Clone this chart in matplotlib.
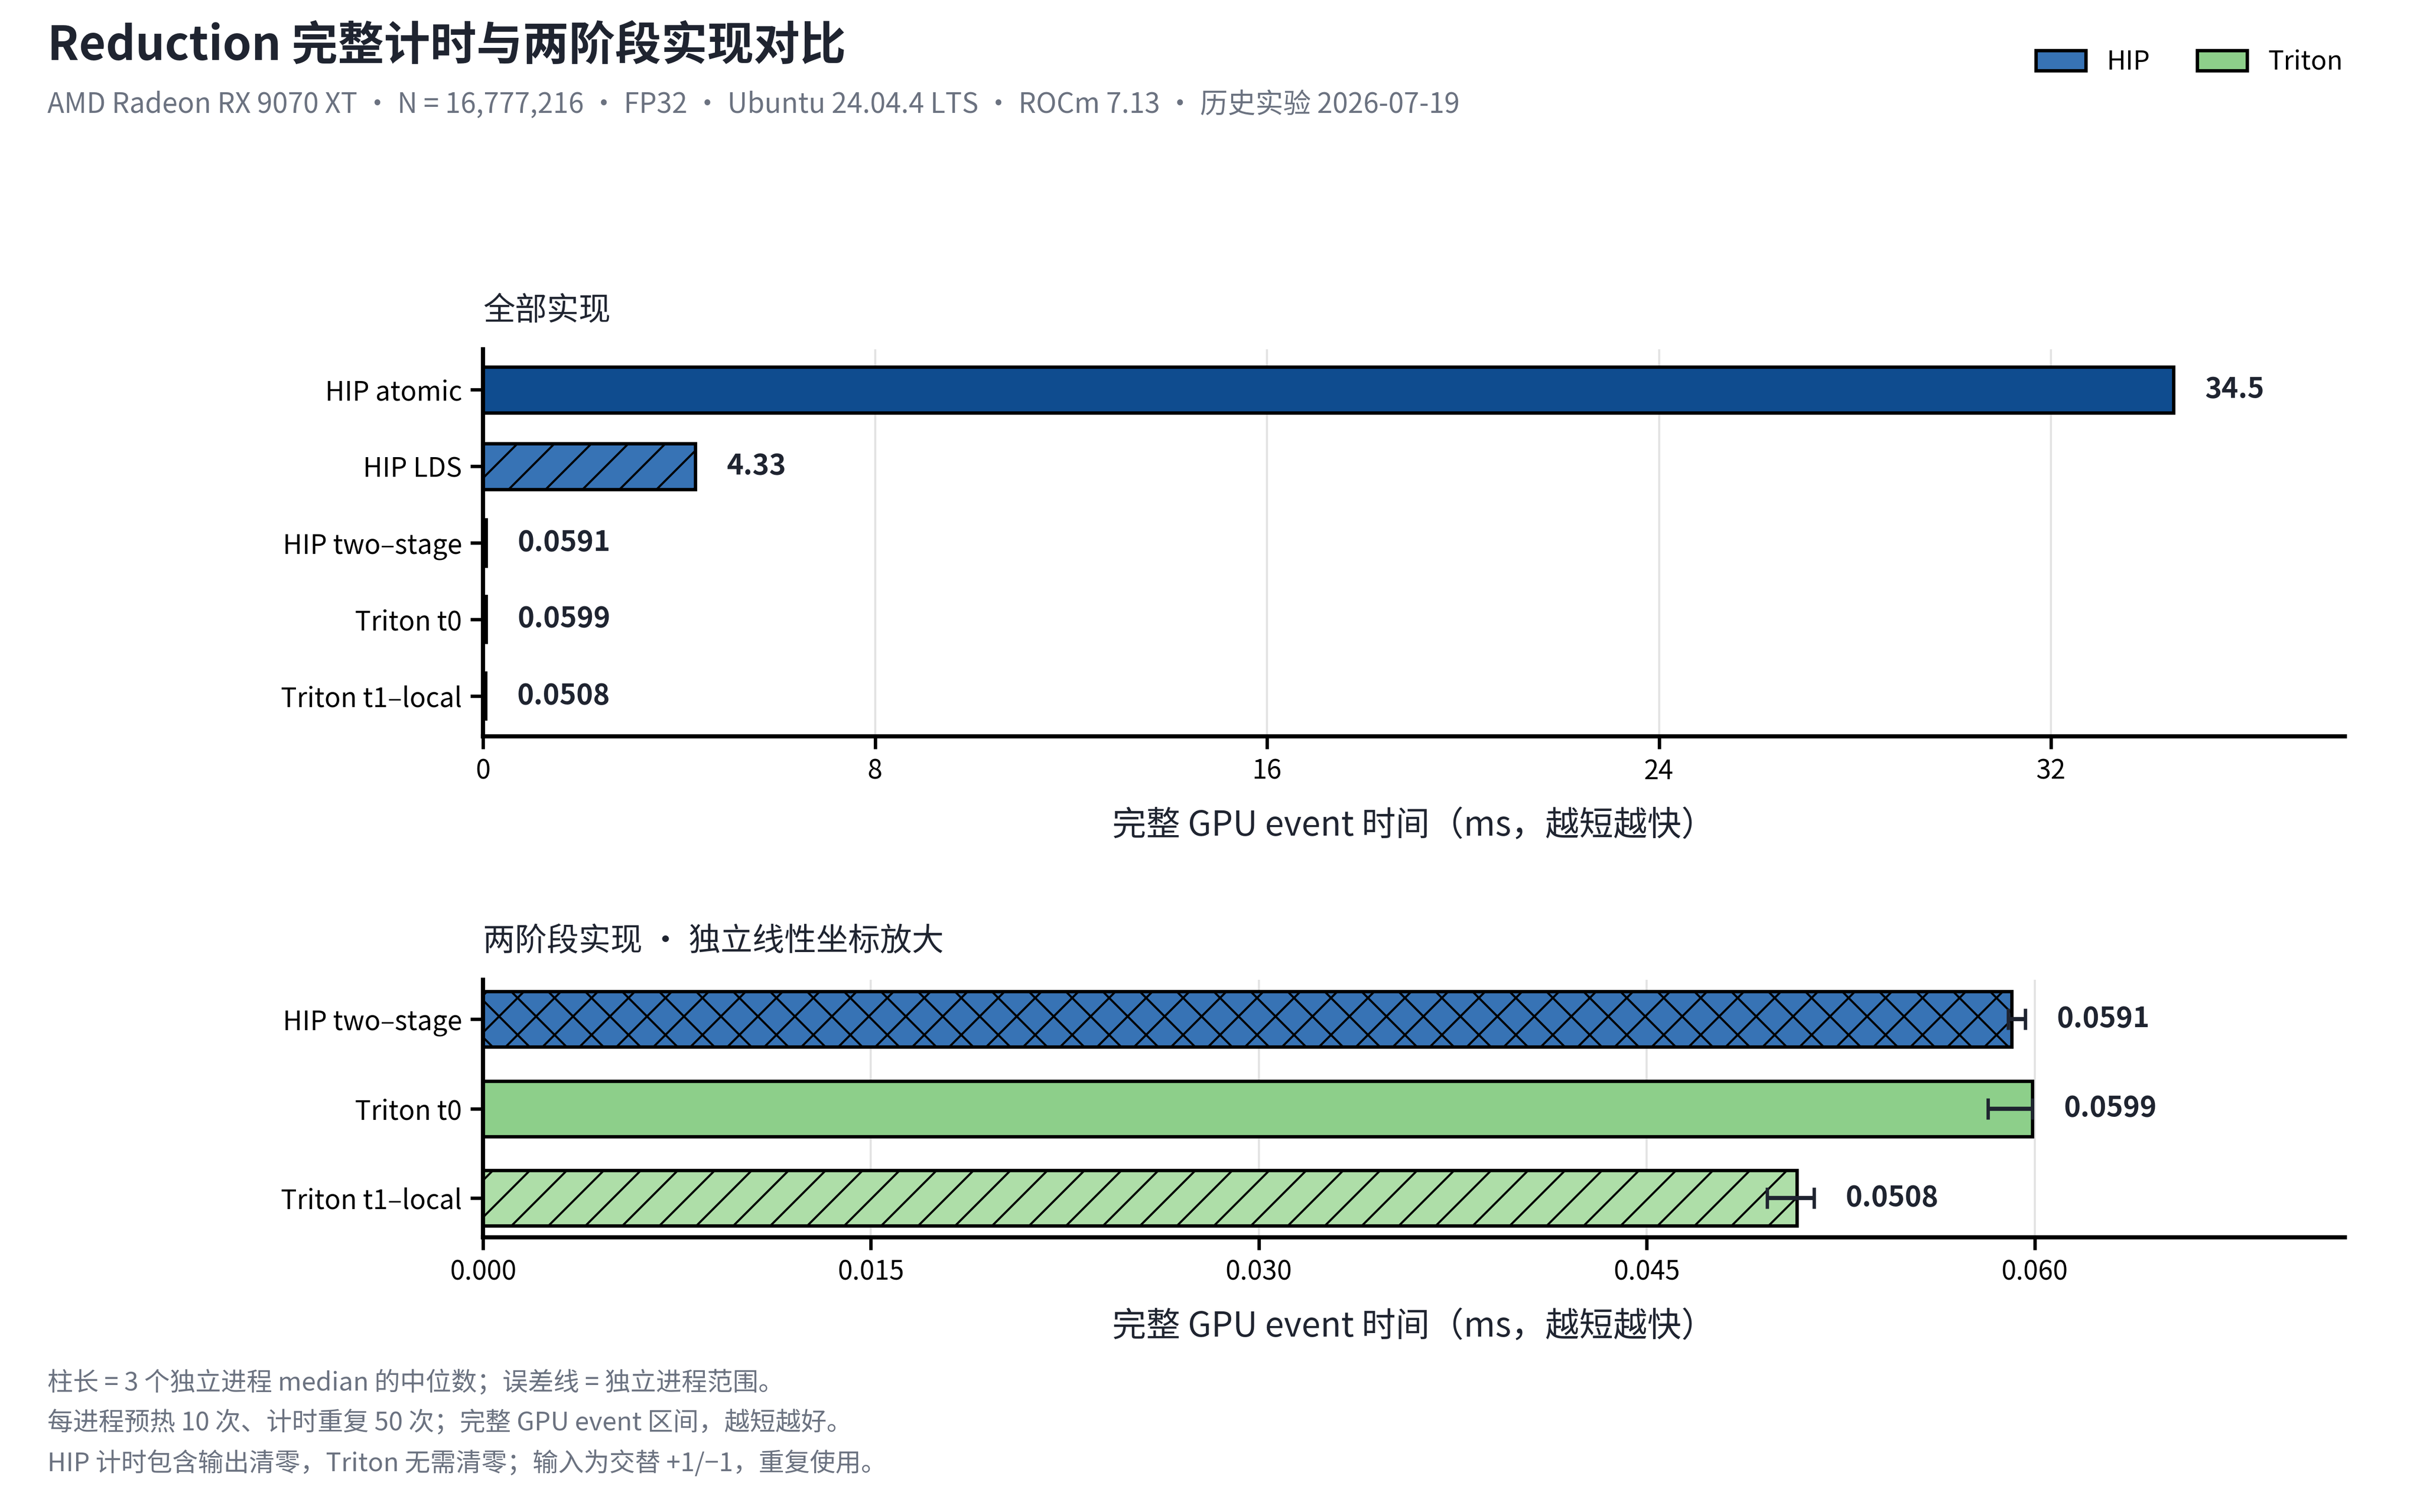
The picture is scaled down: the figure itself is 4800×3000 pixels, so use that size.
import matplotlib
matplotlib.use('Agg')
from matplotlib import pyplot as plt
from matplotlib.patches import Patch
import numpy as np

# render at a lower dpi so the hatch spacing matches; S scales every point size
DPI = 220
S = 300 / DPI

plt.rcParams['font.family'] = ['Noto Sans CJK SC', 'DejaVu Sans']
plt.rcParams['hatch.linewidth'] = 1.0 * S
plt.rcParams['axes.unicode_minus'] = False

# Data (ms)
all_names = ['HIP atomic', 'HIP LDS', 'HIP two\u2013stage', 'Triton t0', 'Triton t1\u2013local']
all_median = [34.5, 4.33, 0.0591, 0.0599, 0.0508]
all_labels = ['34.5', '4.33', '0.0591', '0.0599', '0.0508']

zoom_names = ['HIP two\u2013stage', 'Triton t0', 'Triton t1\u2013local']
zoom_median = [0.0591, 0.0599, 0.0508]
zoom_min = [0.05897, 0.0582, 0.04966]
zoom_max = [0.05963, 0.0599, 0.05147]
zoom_labels = ['0.0591', '0.0599', '0.0508']

# styles
all_colors = ['#0f4c8f', '#3773b5', '#3773b5', '#8dcf8a', '#aedea8']
all_hatch = ['', '/', 'x', '', '/']
zoom_colors = ['#3773b5', '#8dcf8a', '#aedea8']
zoom_hatch = ['x', '', '/']

dark = '#1f2430'
gray = '#6b7280'

fig = plt.figure(figsize=(4800 / DPI, 3000 / DPI), dpi=DPI)

fig.text(0.0195, 0.969, 'Reduction 完整计时与两阶段实现对比', fontsize=22 * S,
         fontweight='bold', color=dark, va='center', ha='left')
fig.text(0.0195, 0.9306, 'AMD Radeon RX 9070 XT · N = 16,777,216 · FP32 · Ubuntu 24.04.4 LTS · '
         'ROCm 7.13 · 历史实验 2026-07-19', fontsize=13.2 * S, color=gray, va='center', ha='left')

handles = [Patch(facecolor='#3773b5', edgecolor='black', linewidth=1.6 * S, label='HIP'),
           Patch(facecolor='#8dcf8a', edgecolor='black', linewidth=1.6 * S, label='Triton')]
fig.legend(handles=handles, loc='center right', bbox_to_anchor=(0.978, 0.959), ncol=2,
           frameon=False, fontsize=12.5 * S, handlelength=1.9, handleheight=0.8,
           columnspacing=1.8, handletextpad=0.8)


def style_axes(ax):
    for side in ['top', 'right']:
        ax.spines[side].set_visible(False)
    for side in ['left', 'bottom']:
        ax.spines[side].set_linewidth(2.0 * S)
        ax.spines[side].set_color('black')
    ax.tick_params(axis='both', width=1.6 * S, length=6 * S, pad=4 * S,
                   labelsize=12.7 * S, colors='black')
    ax.grid(axis='x', color='#e3e3e3', linewidth=1.0 * S)
    ax.set_axisbelow(True)


# top panel: all implementations
ax1 = fig.add_axes([0.1996, 0.513, 0.7694, 0.256])
y1 = np.arange(len(all_names))
ax1.barh(y1, all_median, height=0.6, color=all_colors, edgecolor='black',
         linewidth=1.6 * S, hatch=all_hatch)
ax1.set_yticks(y1)
ax1.set_yticklabels(all_names)
ax1.invert_yaxis()
ax1.set_xlim(0, 38)
ax1.set_xticks([0, 8, 16, 24, 32])
style_axes(ax1)
ax1.set_xlabel('完整 GPU event 时间（ms，越短越快）', fontsize=16.2 * S, color=dark,
               labelpad=11 * S)
ax1.set_title('全部实现', loc='left', fontsize=15.2 * S, color=dark, pad=14 * S)
for yi, v, lab in zip(y1, all_median, all_labels):
    ax1.annotate(lab, (v, yi), xytext=(15 * S, 0), textcoords='offset points',
                 va='center', ha='left', fontsize=13.5 * S, fontweight='bold', color=dark)

# bottom panel: two-stage zoom with process range
ax2 = fig.add_axes([0.1996, 0.1816, 0.7694, 0.1704])
y2 = np.arange(len(zoom_names))
med = np.array(zoom_median)
xerr = np.vstack([med - np.array(zoom_min), np.array(zoom_max) - med])
ax2.barh(y2, zoom_median, height=0.62, color=zoom_colors, edgecolor='black',
         linewidth=1.6 * S, hatch=zoom_hatch)
ax2.errorbar(zoom_median, y2, xerr=xerr, fmt='none', ecolor=dark, elinewidth=2.0 * S,
             capsize=5 * S, capthick=1.6 * S)
ax2.set_yticks(y2)
ax2.set_yticklabels(zoom_names)
ax2.invert_yaxis()
ax2.set_xlim(0, 0.072)
ax2.set_xticks([0.0, 0.015, 0.030, 0.045, 0.060])
ax2.set_xticklabels(['0.000', '0.015', '0.030', '0.045', '0.060'])
style_axes(ax2)
ax2.set_xlabel('完整 GPU event 时间（ms，越短越快）', fontsize=16.2 * S, color=dark,
               labelpad=11 * S)
ax2.set_title('两阶段实现 · 独立线性坐标放大', loc='left', fontsize=15.2 * S, color=dark,
              pad=14 * S)
for yi, v, hi, lab in zip(y2, zoom_median, zoom_max, zoom_labels):
    ax2.annotate(lab, (max(v, hi), yi), xytext=(15 * S, 0), textcoords='offset points',
                 va='center', ha='left', fontsize=13.5 * S, fontweight='bold', color=dark)

notes = ['柱长 = 3 个独立进程 median 的中位数；误差线 = 独立进程范围。',
         '每进程预热 10 次、计时重复 50 次；完整 GPU event 区间，越短越好。',
         'HIP 计时包含输出清零，Triton 无需清零；输入为交替 +1/−1，重复使用。']
for i, line in enumerate(notes):
    fig.text(0.0195, 0.0850 - i * 0.0266, line, fontsize=12.2 * S, color=gray,
             va='center', ha='left')

fig.savefig('out.png', dpi=DPI, facecolor='white')
